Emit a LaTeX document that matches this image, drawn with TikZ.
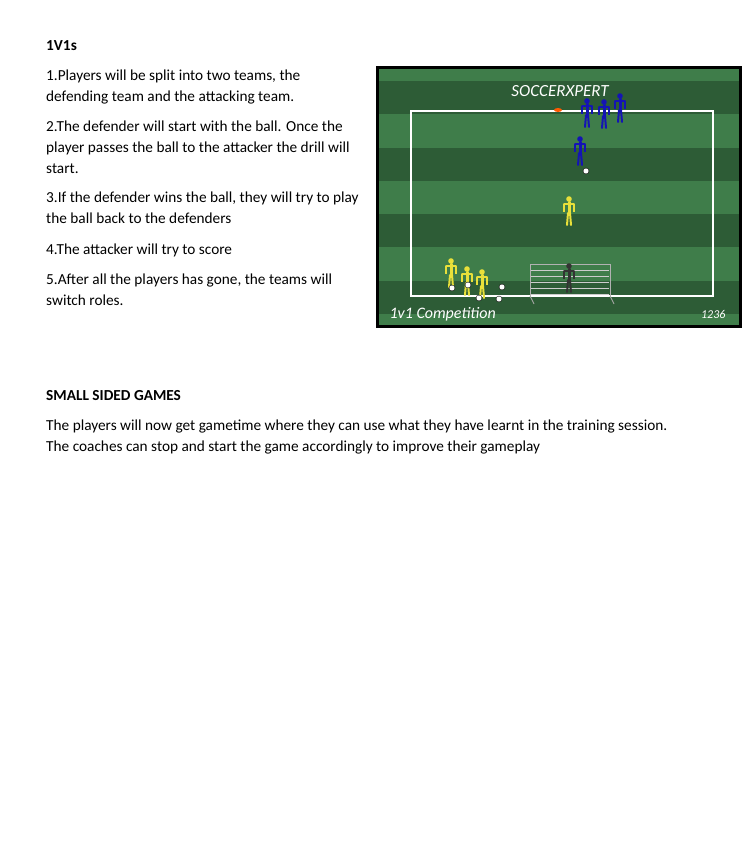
\documentclass[tikz,border=0pt]{standalone}
\usepackage{fontspec}
\setmainfont{Carlito}
\definecolor{pitchlight}{HTML}{3F7D4A}
\definecolor{pitchdark}{HTML}{2D5C36}
\definecolor{bluekit}{HTML}{1414B4}
\definecolor{yellowkit}{HTML}{E8E03A}
\tikzset{
    txt/.style={anchor=base west, inner sep=0pt, font=\fontsize{15.3}{18}\selectfont},
    head/.style={font=\fontsize{15.3}{18}\selectfont\bfseries},
    ball/.style={circle, draw=black, fill=white, line width=0.4pt, inner sep=0pt, minimum size=6pt},
    pics/player/.style={code={
        \fill[#1] (0,0) circle (2.8);
        \draw[#1, line width=3pt, line cap=round] (0,3) -- (0,14);
        \draw[#1, line width=1.6pt, line cap=round] (-5,5) -- (5,5);
        \draw[#1, line width=1.6pt] (-5,5) -- (-5,13) (5,5) -- (5,13);
        \draw[#1, line width=2pt, line cap=round] (-1,14) -- (-2,26) (1,14) -- (2,26);
    }}
}
\begin{document}
\begin{tikzpicture}[x=1pt, y=-1pt]
    \useasboundingbox[fill=white] (0,0) rectangle (754,846);
    % text column
    \node[txt, head] (title) at (46,50) {1V1s};
    \node[txt] (l1) at (46,80) {1.Players will be split into two teams, the};
    \node[txt] (l2) at (46,101) {defending team and the attacking team.};
    \node[txt] (l3) at (46,131) {2.The defender will start with the ball. Once the};
    \node[txt] (l4) at (46,152) {player passes the ball to the attacker the drill will};
    \node[txt] (l5) at (46,173) {start.};
    \node[txt] (l6) at (46,202) {3.If the defender wins the ball, they will try to play};
    \node[txt] (l7) at (46,223) {the ball back to the defenders};
    \node[txt] (l8) at (46,254) {4.The attacker will try to score};
    \node[txt] (l9) at (46,284) {5.After all the players has gone, the teams will};
    \node[txt] (l10) at (46,305) {switch roles.};
    \node[txt, head] (ssg) at (46,400) {SMALL SIDED GAMES};
    \node[txt] (s1) at (46,430) {The players will now get gametime where they can use what they have learnt in the training session.};
    \node[txt] (s2) at (46,451) {The coaches can stop and start the game accordingly to improve their gameplay};
    % pitch
    \fill[black] (376,66) rectangle (742,328);
    \fill[pitchlight] (379,69) rectangle (739,325);
    \foreach \y in {81,148,214,281} {
        \fill[pitchdark] (379,\y) rectangle (739,{min(\y+33,325)});
    }
    \draw[white, line width=2.6pt] (411,111) rectangle (713,296);
    \node[white, font=\fontsize{17}{17}\selectfont\itshape] (logo) at (560,91) {SOCCERXPERT};
    \node[white, anchor=west, font=\fontsize{16}{16}\selectfont\itshape] (caption) at (386,314) {1v1 Competition};
    \node[white, anchor=east, font=\fontsize{12}{12}\selectfont\itshape] (number) at (729,314) {1236};
    \fill[orange!70!red] (558,110) ellipse (4 and 2);
    % goal
    \draw[gray!60, line width=0.9pt] (530,297) -- (530,264) -- (610,264) -- (610,297);
    \foreach \y in {270,276,282,288,294} {
        \draw[gray!40, line width=0.3pt] (531,\y) -- (609,\y);
    }
    \draw[gray!70, line width=0.9pt] (530,296) -- (534,304) (610,296) -- (614,304);
    \pic at (569,266) {player=black!80};
    % players
    \pic at (587,101) {player=bluekit};
    \pic at (604,102) {player=bluekit};
    \pic at (620,96) {player=bluekit};
    \pic at (580,139) {player=bluekit};
    \pic at (569,199) {player=yellowkit};
    \pic at (451,261) {player=yellowkit};
    \pic at (467,269) {player=yellowkit};
    \pic at (482,272) {player=yellowkit};
    % balls
    \node[ball] (b1) at (586,171) {};
    \node[ball] (b2) at (452,288) {};
    \node[ball] (b3) at (468,285) {};
    \node[ball] (b4) at (479,298) {};
    \node[ball] (b5) at (502,287) {};
    \node[ball] (b6) at (499,299) {};
\end{tikzpicture}
\end{document}
